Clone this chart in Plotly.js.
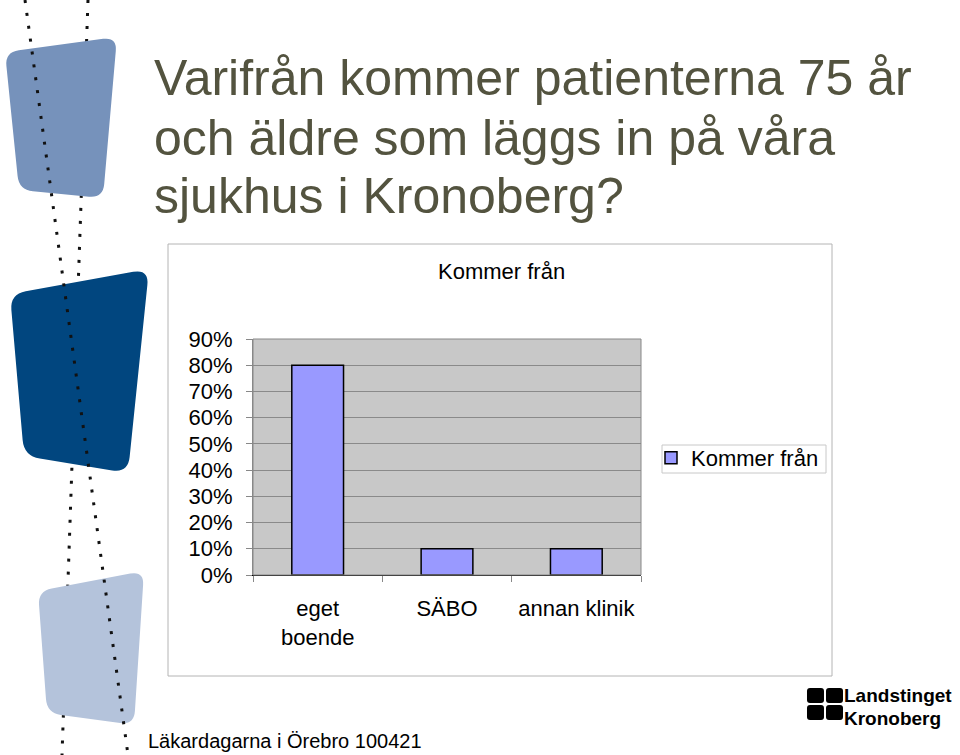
<!DOCTYPE html>
<html>
<head>
<meta charset="utf-8">
<script src="https://cdn.plot.ly/plotly-3.0.1.min.js"></script>
<style>html,body{margin:0;padding:0;background:#fff;}#chart{width:960px;height:755px;}</style>
</head>
<body>
<div id="chart"></div>
<script>
// ---- data ----
const categories = ['eget<br>boende', 'SÄBO', 'annan klinik'];
const shares = [0.80, 0.10, 0.10];
const seriesName = 'Kommer från';
const chartTitle = 'Kommer från';
const slideTitleLines = ['Varifrån kommer patienterna 75 år', 'och äldre som läggs in på våra', 'sjukhus i Kronoberg?'];
const footerText = 'Läkardagarna i Örebro 100421';
const logoLines = ['Landstinget', 'Kronoberg'];

// ---- helpers (pixel -> paper; margins are zero so paper = whole page) ----
const W = 960, H = 755;
const px = x => x / W;
const py = y => 1 - y / H;
const fmt = p => px(p[0]).toFixed(5) + ',' + py(p[1]).toFixed(5);
function towards(a, b, r) {
  const dx = b[0] - a[0], dy = b[1] - a[1];
  const L = Math.hypot(dx, dy);
  return [a[0] + dx / L * r, a[1] + dy / L * r];
}
function roundedPath(pts, r) {
  const n = pts.length; let d = '';
  for (let i = 0; i < n; i++) {
    const p = pts[i], prev = pts[(i - 1 + n) % n], next = pts[(i + 1) % n];
    const a = towards(p, prev, r), b = towards(p, next, r);
    d += (i === 0 ? 'M' : 'L') + fmt(a) + ' Q' + fmt(p) + ' ' + fmt(b) + ' ';
  }
  return d + 'Z';
}
function pathShape(pts, r, color) {
  return {type: 'path', xref: 'paper', yref: 'paper', path: roundedPath(pts, r),
          fillcolor: color, line: {width: 0}};
}
function dotLine(x0, y0, x1, y1) {
  return {type: 'line', xref: 'paper', yref: 'paper', x0: px(x0), y0: py(y0), x1: px(x1), y1: py(y1),
          line: {color: '#111', width: 3, dash: '3px,10px'}};
}
function boxShape(x0, y0, x1, y1, color) {
  return {type: 'rect', xref: 'paper', yref: 'paper', x0: px(x0), x1: px(x1), y0: py(y0), y1: py(y1),
          line: {color: color, width: 1}, fillcolor: 'rgba(0,0,0,0)'};
}

const shapes = [
  // chart area border
  boxShape(168, 244, 832, 676, '#b4b4b4'),
  // legend box
  boxShape(662, 445, 826, 473, '#c8c8c8'),
  // plot area border
  {type: 'rect', xref: 'x domain', yref: 'y domain', x0: 0, x1: 1, y0: 0, y1: 1,
   line: {color: '#888888', width: 1}, fillcolor: 'rgba(0,0,0,0)'},
  // decorative back dotted line
  dotLine(88, 0, 62, 755),
  // decorative blocks
  pathShape([[5, 52], [117, 37], [103, 198], [19, 190]], 14, '#7692bb'),
  pathShape([[10, 294], [149, 269], [128, 473], [24, 456]], 16, '#01467f'),
  pathShape([[38, 591], [144, 571], [134, 725], [47, 713]], 14, '#b4c3db'),
  // decorative front dotted line
  dotLine(25, 0, 128, 755),
  // logo icon
  pathShape([[807, 688], [824, 688], [824, 703], [807, 703]], 3, '#000'),
  pathShape([[826, 688], [843, 688], [843, 703], [826, 703]], 3, '#000'),
  pathShape([[807, 705], [824, 705], [824, 720], [807, 720]], 3, '#000'),
  pathShape([[826, 705], [843, 705], [843, 720], [826, 720]], 3, '#000')
];

const titleFont = {family: 'Liberation Sans, Arial, sans-serif', size: 50, color: '#53533f'};
const annotations = [];
const titleY = [78, 138, 196];
slideTitleLines.forEach((t, i) => annotations.push({
  xref: 'paper', yref: 'paper', x: px(152), y: py(titleY[i]), xanchor: 'left', yanchor: 'middle',
  text: t, showarrow: false, font: titleFont
}));
annotations.push({xref: 'paper', yref: 'paper', x: px(501), y: py(271), xanchor: 'center', yanchor: 'middle',
  text: chartTitle, showarrow: false, font: {family: 'Liberation Sans, Arial, sans-serif', size: 22, color: '#000'}});
annotations.push({xref: 'paper', yref: 'paper', x: px(146), y: py(741), xanchor: 'left', yanchor: 'middle',
  text: footerText, showarrow: false, font: {family: 'Liberation Sans, Arial, sans-serif', size: 20, color: '#000'}});
const logoY = [695, 718];
logoLines.forEach((t, i) => annotations.push({
  xref: 'paper', yref: 'paper', x: px(843), y: py(logoY[i]), xanchor: 'left', yanchor: 'middle',
  text: '<b>' + t + '</b>', showarrow: false, borderpad: 0,
  font: {family: 'Liberation Sans, Arial, sans-serif', size: 19, color: '#000'}
}));

const trace = {
  type: 'bar', x: categories, y: shares, name: seriesName, showlegend: true,
  marker: {color: '#9999ff', line: {color: '#000', width: 1.5}},
  hoverinfo: 'skip'
};

const axisFont = {family: 'Liberation Sans, Arial, sans-serif', size: 22, color: '#000'};
const layout = {
  width: W, height: H,
  margin: {l: 0, r: 0, t: 0, b: 0},
  paper_bgcolor: '#ffffff', plot_bgcolor: '#c8c8c8',
  bargap: 0.6,
  showlegend: true,
  legend: {x: px(651), y: py(437), xanchor: 'left', yanchor: 'top', bgcolor: 'rgba(0,0,0,0)',
           borderwidth: 0, font: axisFont, itemwidth: 30},
  xaxis: {domain: [px(253), px(641)], type: 'category', showgrid: false,
          showline: true, linecolor: '#000', linewidth: 1,
          ticks: 'outside', tickson: 'boundaries', ticklen: 6, tickcolor: '#888',
          tickfont: axisFont, ticklabelstandoff: 14, fixedrange: true, automargin: false},
  yaxis: {domain: [py(575), py(339)], range: [0, 0.9], dtick: 0.1, tick0: 0, tickformat: '.0%',
          showgrid: true, gridcolor: '#8a8a8a', gridwidth: 1, zeroline: false,
          showline: true, linecolor: '#888', ticks: 'outside', ticklen: 6, tickcolor: '#888',
          tickfont: axisFont, ticklabelstandoff: 9, fixedrange: true, automargin: false},
  shapes: shapes,
  annotations: annotations
};

Plotly.newPlot('chart', [trace], layout, {staticPlot: true, displayModeBar: false});
</script>
</body>
</html>
